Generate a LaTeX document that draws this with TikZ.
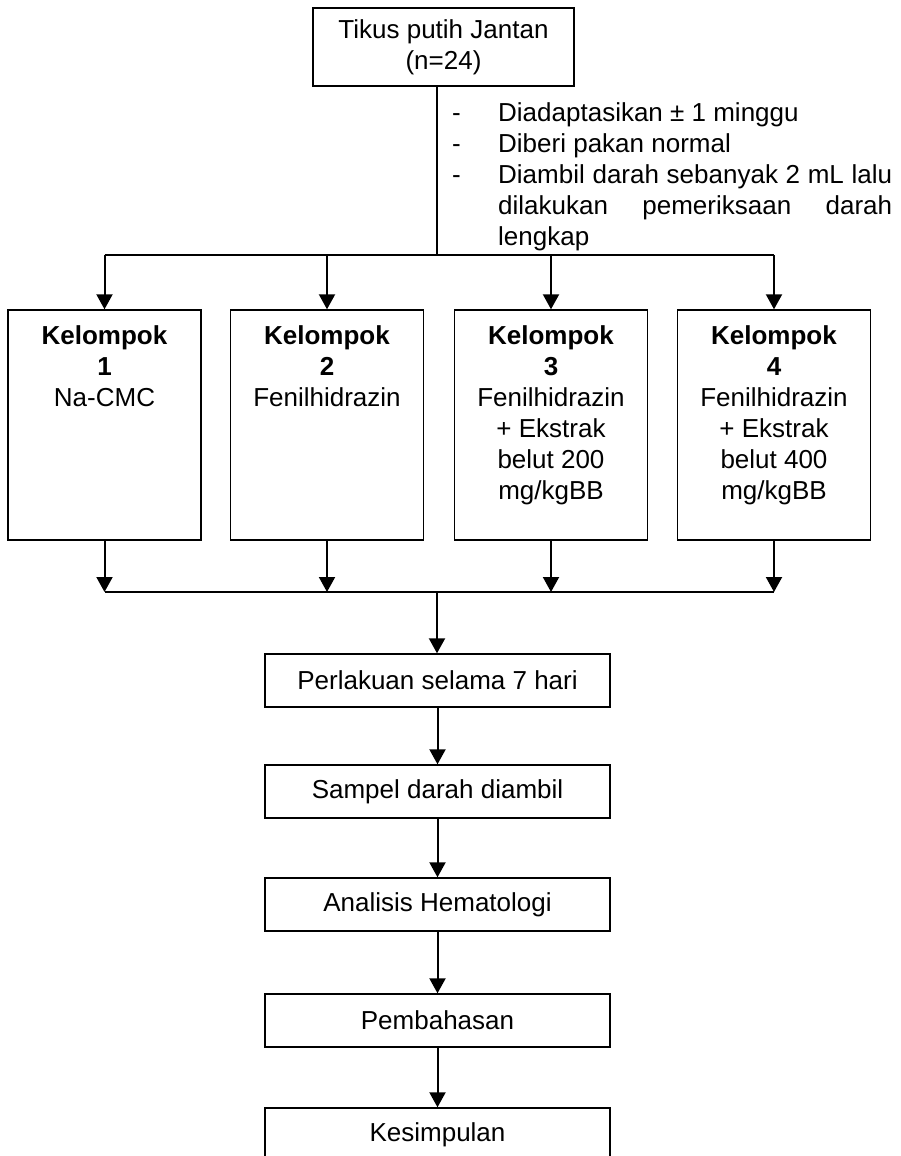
\documentclass[tikz,border=0pt]{standalone}
\usepackage{fontspec}
\setmainfont{Liberation Sans}
\usetikzlibrary{arrows.meta}
\usetikzlibrary{positioning}
\hyphenpenalty=10000

\newcommand{\dashitem}{\par\noindent\hangindent=46pt\hangafter=1\makebox[46pt][l]{-}}

\begin{document}
\begin{tikzpicture}[x=1pt, y=-1pt, every node/.style={font=\fontsize{26}{31}\selectfont},
	box/.style={draw, line width=1.4pt, inner sep=0pt, align=center},
	stepbox/.style={box, minimum width=345pt, minimum height=53pt},
	groupbox/.style={box, minimum width=193pt, minimum height=230pt},
	line/.style={line width=2pt},
	arrow/.style={line, -{Triangle[width=16pt, length=15pt]}}]

	\useasboundingbox (0,0) rectangle (900,1156);

	\begin{scope}
		\node[box, minimum width=261pt, minimum height=78pt] (tikus) at (443.5,47) {Tikus putih Jantan\\(n=24)};

		\node[anchor=north west, inner sep=0pt, text width=440pt, align=justify] (notes) at (452,90)
			{\tolerance=10000
			\dashitem Diadaptasikan ± 1 minggu
			\dashitem Diberi pakan normal
			\dashitem Diambil darah sebanyak 2 mL lalu\linebreak dilakukan pemeriksaan darah\linebreak lengkap\par};

		\coordinate (split) at (437,255);
		\draw[line] (tikus.south -| split) -- (split);
	\end{scope}

	\begin{scope}
		\node[groupbox, label={[anchor=north, align=center, inner sep=0pt, yshift=-16pt]north:{\textbf{Kelompok}\\\textbf{1}\\Na-CMC}}] (k1) at (104.5,425) {};
		\node[groupbox, label={[anchor=north, align=center, inner sep=0pt, yshift=-16pt]north:{\textbf{Kelompok}\\\textbf{2}\\Fenilhidrazin}}] (k2) at (327,425) {};
		\node[groupbox, label={[anchor=north, align=center, inner sep=0pt, yshift=-16pt]north:{\textbf{Kelompok}\\\textbf{3}\\Fenilhidrazin\\+ Ekstrak\\belut 200\\mg/kgBB}}] (k3) at (551,425) {};
		\node[groupbox, label={[anchor=north, align=center, inner sep=0pt, yshift=-16pt]north:{\textbf{Kelompok}\\\textbf{4}\\Fenilhidrazin\\+ Ekstrak\\belut 400\\mg/kgBB}}] (k4) at (774,425) {};

		\coordinate (join) at (437,592);
		\draw[line] (k1.north |- split) -- (k4.north |- split);
		\draw[line] (k1.south |- join) -- (k4.south |- join);
		\foreach \k in {k1,k2,k3,k4} {
			\draw[arrow] (\k.north |- split) -- (\k.north);
			\draw[arrow] (\k.south) -- (\k.south |- join);
		}
	\end{scope}

	\begin{scope}
		\node[stepbox] (s1) at (437.5,680.5) {Perlakuan selama 7 hari};
		\node[stepbox] (s2) at (437.5,791.5) {Sampel darah diambil};
		\node[stepbox] (s3) at (437.5,904.5) {Analisis Hematologi};
		\node[stepbox] (s4) at (437.5,1020.5) {Pembahasan};
		\node[stepbox] (s5) at (437.5,1134.5) {Kesimpulan};

		\draw[arrow] (join) -- (join |- s1.north);
		\draw[arrow] (s1) -- (s2);
		\draw[arrow] (s2) -- (s3);
		\draw[arrow] (s3) -- (s4);
		\draw[arrow] (s4) -- (s5);
	\end{scope}
\end{tikzpicture}
\end{document}
